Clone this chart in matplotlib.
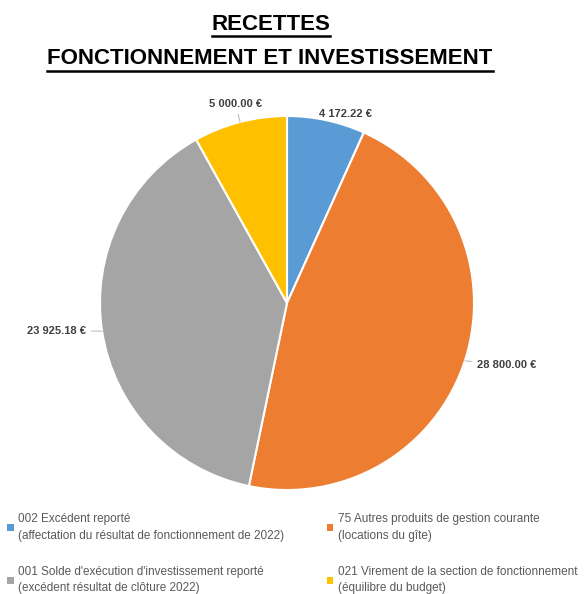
import numpy as np
import matplotlib
matplotlib.use("Agg")
from matplotlib import pyplot as plt
from matplotlib.lines import Line2D
from matplotlib.patches import Patch

plt.rcParams['font.family'] = ['Liberation Sans', 'DejaVu Sans']

# data
labels = ['002 Excédent reporté\n(affectation du résultat de fonctionnement de 2022)',
          '75 Autres produits de gestion courante\n(locations du gîte)',
          "001 Solde d'exécution d'investissement reporté\n(excédent résultat de clôture 2022)",
          '021 Virement de la section de fonctionnement\n(équilibre du budget)']
values = [4172.22, 28800.00, 23925.18, 5000.00]
colors = ['#5B9BD5', '#ED7D31', '#A5A5A5', '#FFC000']
value_labels = ['4 172.22 €', '28 800.00 €', '23 925.18 €', '5 000.00 €']

W, H = 584, 594
fig = plt.figure(figsize=(W / 100, H / 100), dpi=100)

# pie axes: centre (287, 303) px, radius 187 px
cx, cy, r = 287, 303, 187
ax = fig.add_axes([(cx - r) / W, (H - cy - r) / H, 2 * r / W, 2 * r / H])
wedges, _ = ax.pie(values, colors=colors, startangle=90, counterclock=False,
                   wedgeprops=dict(edgecolor='white', linewidth=1.5))
ax.set_xlim(-1, 1)
ax.set_ylim(-1, 1)
ax.set_axis_off()

# value labels with leader lines (radius factor, angle shift in deg, alignment)
lab_pos = [(1.06, -5, 'center'), (1.07, 0, 'left'),
           (1.085, -0.8, 'right'), (1.10, 0, 'center')]
for w, txt, (lr, da, ha) in zip(wedges, value_labels, lab_pos):
    mid = (w.theta1 + w.theta2) / 2
    ang = np.deg2rad(mid)
    x, y = np.cos(ang), np.sin(ang)
    ta = np.deg2rad(mid + da)
    tx, ty = lr * np.cos(ta), lr * np.sin(ta)
    show_line = txt != value_labels[0]
    ax.annotate(txt, xy=(x, y), xytext=(tx, ty), ha=ha, va='center',
                fontsize=8, fontweight='bold', color='#404040',
                arrowprops=dict(arrowstyle='-', color='#BFBFBF', lw=0.8,
                                shrinkA=2, shrinkB=0) if show_line else None,
                annotation_clip=False)

# title with underline
t1 = fig.text(271 / W, 1 - 24 / H, 'RECETTES', ha='center', va='center',
              fontsize=16, fontweight='bold', color='black')
t2 = fig.text(270 / W, 1 - 59 / H, 'FONCTIONNEMENT ET INVESTISSEMENT', ha='center',
              va='center', fontsize=16, fontweight='bold', color='black')
fig.canvas.draw()
rend = fig.canvas.get_renderer()
for t in (t1, t2):
    bb = t.get_window_extent(rend).transformed(fig.transFigure.inverted())
    fig.add_artist(Line2D([bb.x0, bb.x1], [bb.y0 - 0.003, bb.y0 - 0.003],
                          transform=fig.transFigure, color='black', lw=1.8))

# legend, row-major order like the original
order = [0, 2, 1, 3]
handles = [Patch(facecolor=colors[i], edgecolor='none') for i in order]
leg = fig.legend(handles, [labels[i] for i in order], loc='upper left',
                 bbox_to_anchor=(0.0, 1 - 506 / H), ncol=2, frameon=False,
                 fontsize=8.5, labelcolor='#595959',
                 handlelength=0.55, handleheight=0.55, handletextpad=0.4,
                 labelspacing=2.05, columnspacing=3.6, borderaxespad=0.2)
for t in leg.get_texts():
    t.set_linespacing(1.5)

fig.savefig('out.png', dpi=100)
